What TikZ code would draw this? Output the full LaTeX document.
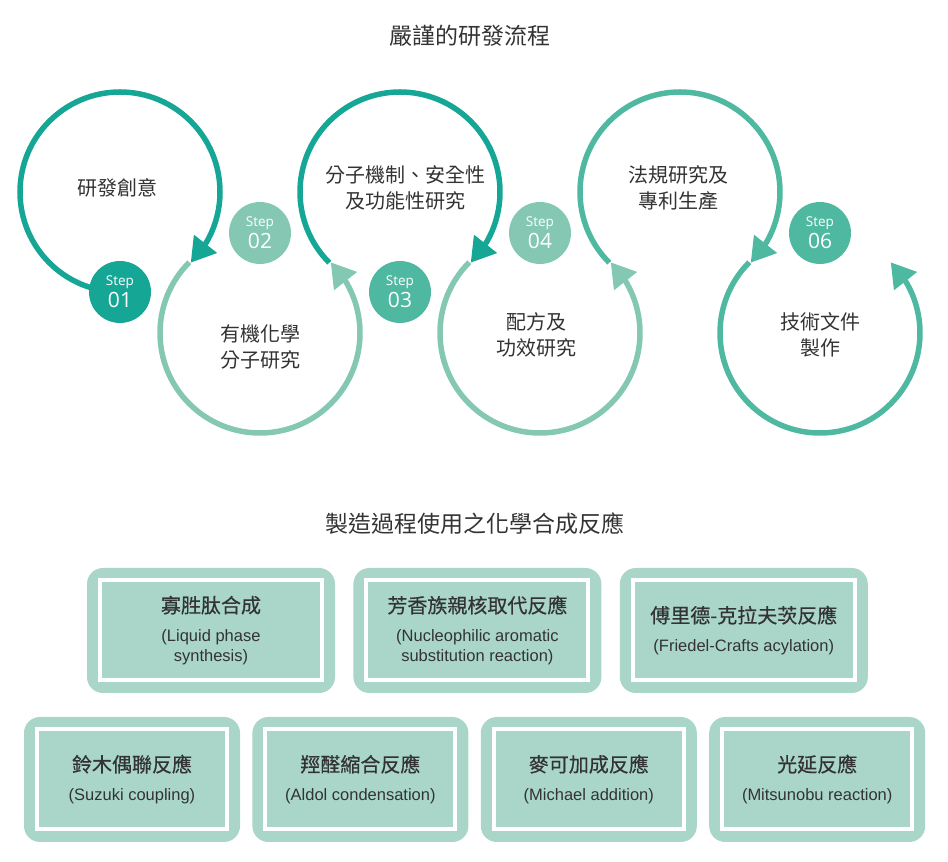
\documentclass[tikz,border=0pt]{standalone}
\usepackage{fontspec}
\setmainfont{Liberation Sans}
\newfontfamily\cjk{Noto Sans CJK TC}
\newfontfamily\cjkmed[FakeBold=0.5]{Noto Sans CJK TC}
\newfontfamily\stepfont{Open Sans}
\usetikzlibrary{positioning, arrows.meta, bending}

\definecolor{tealdark}{RGB}{22,166,149}
\definecolor{teallight}{RGB}{132,200,180}
\definecolor{tealmid}{RGB}{79,184,160}
\definecolor{boxfill}{RGB}{169,214,201}
\definecolor{textgray}{RGB}{51,51,51}

\begin{document}
\begin{tikzpicture}[x=1pt, y=1pt, >={Triangle[width=28pt, length=24pt]},
	loop/.style={line width=5.5pt, ->},
	badge/.style={circle, minimum size=62pt, inner sep=0pt, text=white, align=center, font=\stepfont\fontsize{21}{22}\selectfont},
	stage/.style={align=center, text=textgray, font=\cjk\fontsize{20}{26}\selectfont},
	heading/.style={text=textgray, font=\cjk\fontsize{23}{28}\selectfont},
	outerbox/.style={fill=boxfill, rounded corners=16pt, minimum height=125pt, inner sep=0pt},
	innerbox/.style={draw=white, line width=4pt, minimum height=100pt, inner sep=0pt, align=center, text=textgray, font=\fontsize{16.5}{20}\selectfont}]
	
	\useasboundingbox (0,0) rectangle (948,862);
	
	% Headings
	\node[heading] (flow) at (470,826) {嚴謹的研發流程};
	\node[heading] (reactions) at (475,338) {製造過程使用之化學合成反應};
	
	% Circle centres
	\coordinate (idea) at (120,670);
	\coordinate (organic) at (260,529);
	\coordinate (mechanism) at (400,670);
	\coordinate (formula) at (540,529);
	\coordinate (regulation) at (680,670);
	\coordinate (docs) at (820,529);
	
	% Loops with arrows
	\draw[loop, tealdark] (idea) ++(270:100) arc[start angle=270, end angle=-45, radius=100];
	\draw[loop, teallight] (organic) ++(135:100) arc[start angle=135, end angle=405, radius=100];
	\draw[loop, tealdark] (mechanism) ++(225:100) arc[start angle=225, end angle=-45, radius=100];
	\draw[loop, teallight] (formula) ++(135:100) arc[start angle=135, end angle=405, radius=100];
	\draw[loop, tealmid] (regulation) ++(225:100) arc[start angle=225, end angle=-45, radius=100];
	\draw[loop, tealmid] (docs) ++(135:100) arc[start angle=135, end angle=405, radius=100];
	
	% Step badges
	\node[badge, fill=tealdark] (step1) at ([yshift=-100pt]idea) {{\fontsize{13.5}{13}\selectfont Step}\\01};
	\node[badge, fill=teallight] (step2) at ([yshift=100pt]organic) {{\fontsize{13.5}{13}\selectfont Step}\\02};
	\node[badge, fill=tealmid] (step3) at ([yshift=-100pt]mechanism) {{\fontsize{13.5}{13}\selectfont Step}\\03};
	\node[badge, fill=teallight] (step4) at ([yshift=100pt]formula) {{\fontsize{13.5}{13}\selectfont Step}\\04};
	\node[badge, fill=tealmid] (step6) at ([yshift=100pt]docs) {{\fontsize{13.5}{13}\selectfont Step}\\06};
	
	% Stage texts
	\node[stage] (idea-txt) at ([shift={(-3,4)}]idea) {研發創意};
	\node[stage] (organic-txt) at ([yshift=-14pt]organic) {有機化學\\分子研究};
	\node[stage] (mechanism-txt) at ([shift={(5,4)}]mechanism) {分子機制、安全性\\及功能性研究};
	\node[stage] (formula-txt) at ([shift={(-4,-2)}]formula) {配方及\\功效研究};
	\node[stage] (regulation-txt) at ([shift={(-2,4)}]regulation) {法規研究及\\專利生產};
	\node[stage] (docs-txt) at ([yshift=-2pt]docs) {技術文件\\製作};
	
	% Reaction boxes, first row
	\node[outerbox, minimum width=248pt] (peptide) at (211,231.5) {};
	\node[outerbox, minimum width=248pt, right=18pt of peptide] (snar) {};
	\node[outerbox, minimum width=248pt, right=18pt of snar] (friedel) {};
	\node[innerbox, minimum width=222pt] (peptide-in) at (peptide) {{\cjkmed\fontsize{20}{24}\selectfont 寡胜肽合成}\\[9pt](Liquid phase\\synthesis)};
	\node[innerbox, minimum width=222pt] (snar-in) at (snar) {{\cjkmed\fontsize{20}{24}\selectfont 芳香族親核取代反應}\\[9pt](Nucleophilic aromatic\\substitution reaction)};
	\node[innerbox, minimum width=222pt] (friedel-in) at (friedel) {{\cjkmed\fontsize{20}{24}\selectfont 傅里德-克拉夫茨反應}\\[9pt](Friedel-Crafts acylation)};
	
	% Reaction boxes, second row
	\node[outerbox, minimum width=216pt] (suzuki) at (132,82.5) {};
	\node[outerbox, minimum width=216pt, right=12pt of suzuki] (aldol) {};
	\node[outerbox, minimum width=216pt, right=12pt of aldol] (michael) {};
	\node[outerbox, minimum width=216pt, right=12pt of michael] (mitsunobu) {};
	\node[innerbox, minimum width=190pt] (suzuki-in) at (suzuki) {{\cjkmed\fontsize{20}{24}\selectfont 鈴木偶聯反應}\\[9pt](Suzuki coupling)};
	\node[innerbox, minimum width=190pt] (aldol-in) at (aldol) {{\cjkmed\fontsize{20}{24}\selectfont 羥醛縮合反應}\\[9pt](Aldol condensation)};
	\node[innerbox, minimum width=190pt] (michael-in) at (michael) {{\cjkmed\fontsize{20}{24}\selectfont 麥可加成反應}\\[9pt](Michael addition)};
	\node[innerbox, minimum width=190pt] (mitsunobu-in) at (mitsunobu) {{\cjkmed\fontsize{20}{24}\selectfont 光延反應}\\[9pt](Mitsunobu reaction)};
	
\end{tikzpicture}
\end{document}
